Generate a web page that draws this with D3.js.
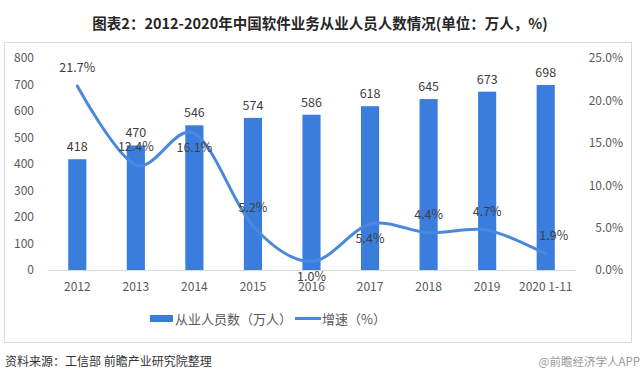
<!DOCTYPE html>
<html><head><meta charset="utf-8">
<script src="https://cdn.jsdelivr.net/npm/d3@7"></script>
<style>body{margin:0;background:#fff;}svg{display:block;}</style>
</head><body>
<svg id="c" width="640" height="382"></svg>
<script>
const categories = ["2012","2013","2014","2015","2016","2017","2018","2019","2020 1-11"];
const employees = [418,470,546,574,586,618,645,673,698];
const growth = [21.7,12.4,16.1,5.2,1.0,5.4,4.4,4.7,1.9];
const leftTicks = [0,100,200,300,400,500,600,700,800];
const rightTicks = [0,5,10,15,20,25];
const growthLabelSide = ["above","above","below","above","below","below","above","above","above"];

const svg = d3.select("#c");
const font = "'Noto Sans CJK SC','Microsoft YaHei',sans-serif";
const m = {l:48, r:575, t:58, b:270};
const x = d3.scaleBand().domain(categories).range([m.l, m.r]).paddingInner(0.69).paddingOuter(0.345);
const yL = d3.scaleLinear().domain([0,800]).range([m.b, m.t]);
const yR = d3.scaleLinear().domain([0,25]).range([m.b, m.t]);
const barColor = "#3b7ddd", lineColor = "#4a88dc", txt = "#595959";

// frame
svg.append("rect").attr("x",4.5).attr("y",42.5).attr("width",627).attr("height",300)
  .attr("fill","none").attr("stroke","#d9d9d9");

// title
svg.append("text").attr("x",320).attr("y",29).attr("text-anchor","middle")
  .attr("font-family",font).attr("font-weight","bold").attr("font-size",14.5).attr("fill","#262626")
  .text("图表2：2012-2020年中国软件业务从业人员人数情况(单位：万人，%)");

// left axis
const gL = svg.append("g").attr("transform",`translate(${m.l},0)`)
  .call(d3.axisLeft(yL).tickValues(leftTicks).tickSize(0).tickPadding(14));
gL.select(".domain").remove();
gL.selectAll("text").attr("font-family",font).attr("font-size",12).attr("fill",txt);

// right axis
const gR = svg.append("g").attr("transform",`translate(${m.r},0)`)
  .call(d3.axisRight(yR).tickValues(rightTicks).tickSize(0).tickPadding(48).tickFormat(d=>d.toFixed(1)+"%"));
gR.select(".domain").remove();
gR.selectAll("text").attr("font-family",font).attr("font-size",12).attr("fill",txt).attr("text-anchor","end");

// x axis
const gX = svg.append("g").attr("transform",`translate(0,${m.b})`)
  .call(d3.axisBottom(x).tickSize(0).tickPadding(12));
gX.select(".domain").attr("stroke","#d9d9d9");
gX.selectAll("text").attr("font-family",font).attr("font-size",12).attr("fill",txt);

// bars
svg.append("g").selectAll("rect").data(employees).join("rect")
  .attr("x",(d,i)=>x(categories[i])).attr("width",x.bandwidth())
  .attr("y",d=>yL(d)).attr("height",d=>m.b-yL(d)).attr("fill",barColor);
svg.append("g").selectAll("text").data(employees).join("text")
  .attr("x",(d,i)=>x(categories[i])+x.bandwidth()/2).attr("y",d=>yL(d)-8)
  .attr("text-anchor","middle").attr("font-family",font).attr("font-size",12.5).attr("fill","#404040")
  .text(d=>d);

// line
const cx = (i)=>x(categories[i])+x.bandwidth()/2;
const line = d3.line().x((d,i)=>cx(i)).y(d=>yR(d)).curve(d3.curveCatmullRom.alpha(0));
svg.append("path").datum(growth).attr("d",line).attr("fill","none")
  .attr("stroke",lineColor).attr("stroke-width",3).attr("stroke-linecap","round");
svg.append("g").selectAll("text").data(growth).join("text")
  .attr("x",(d,i)=>cx(i)+(i===8?8:0))
  .attr("y",(d,i)=>growthLabelSide[i]==="above"? yR(d)-14 : yR(d)+19)
  .attr("text-anchor","middle").attr("font-family",font).attr("font-size",12.5).attr("fill","#404040")
  .text(d=>d.toFixed(1)+"%");

// legend
const lg = svg.append("g").attr("font-family",font).attr("font-size",13).attr("fill",txt);
lg.append("rect").attr("x",150).attr("y",315).attr("width",23).attr("height",7).attr("fill",barColor);
lg.append("text").attr("x",175).attr("y",323.5).text("从业人员数（万人）");
lg.append("line").attr("x1",295).attr("x2",321).attr("y1",318.5).attr("y2",318.5)
  .attr("stroke",lineColor).attr("stroke-width",3);
lg.append("text").attr("x",322).attr("y",323.5).text("增速（%）");

// footer
svg.append("text").attr("x",5).attr("y",366).attr("font-family",font).attr("font-size",12)
  .attr("fill","#333").text("资料来源：工信部 前瞻产业研究院整理");
svg.append("text").attr("x",640).attr("y",366).attr("text-anchor","end").attr("font-family",font).attr("font-size",11.5)
  .attr("fill","#999").text("@前瞻经济学人APP");
</script>
</body></html>
